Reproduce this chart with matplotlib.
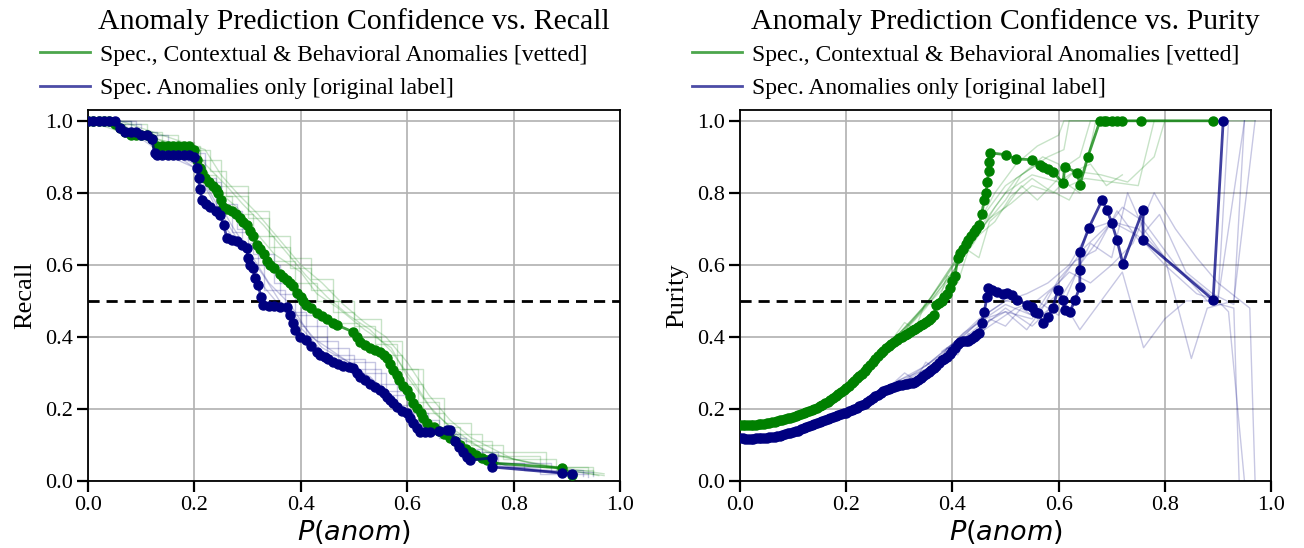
import matplotlib
matplotlib.use("Agg")
import matplotlib.pyplot as plt
from matplotlib.lines import Line2D

plt.rcParams['font.family'] = ['Liberation Serif', 'DejaVu Serif']
plt.rcParams['mathtext.fontset'] = 'dejavusans'

GREEN = '#008000'
NAVY = '#000080'

titles = ["Anomaly Prediction Confidence vs. Recall",
          "Anomaly Prediction Confidence vs. Purity"]
ylabels = ["Recall", "Purity"]
legend_labels = ["Spec., Contextual & Behavioral Anomalies [vetted]",
                 "Spec. Anomalies only [original label]"]
xticks = [0.0, 0.2, 0.4, 0.6, 0.8, 1.0]
yticks = [0.0, 0.2, 0.4, 0.6, 0.8, 1.0]

# ---------------- Recall: main curves ----------------
recall_green_x = [0.0, 0.01, 0.02, 0.03, 0.04, 0.05, 0.06, 0.07, 0.08, 0.09, 0.10, 0.11, 0.12, 0.13,
                  0.14, 0.15, 0.16, 0.17, 0.18, 0.19, 0.20, 0.205, 0.21, 0.215, 0.22, 0.228, 0.235,
                  0.24, 0.245, 0.25, 0.254, 0.262, 0.27, 0.278, 0.285, 0.292, 0.299, 0.305, 0.31,
                  0.318, 0.324, 0.33, 0.336, 0.343, 0.35, 0.36, 0.367, 0.374, 0.38, 0.385, 0.393,
                  0.40, 0.405, 0.41, 0.42, 0.43, 0.44, 0.45, 0.46, 0.468, 0.498, 0.505, 0.511,
                  0.52, 0.53, 0.54, 0.549, 0.556, 0.562, 0.567, 0.573, 0.58, 0.585, 0.593, 0.60,
                  0.606, 0.611, 0.618, 0.625, 0.63, 0.637, 0.65, 0.66, 0.67, 0.68, 0.69, 0.70,
                  0.71, 0.72, 0.73, 0.74, 0.75, 0.76, 0.891, 0.91]
recall_green_y = [1.0, 1.0, 1.0, 1.0, 1.0, 0.99, 0.98, 0.97, 0.96, 0.96, 0.96, 0.96, 0.95, 0.93,
                  0.93, 0.93, 0.93, 0.93, 0.93, 0.93, 0.92, 0.89, 0.87, 0.855, 0.84, 0.83, 0.82,
                  0.81, 0.80, 0.78, 0.76, 0.755, 0.75, 0.74, 0.73, 0.72, 0.71, 0.695, 0.68,
                  0.656, 0.643, 0.63, 0.61, 0.60, 0.59, 0.575, 0.566, 0.558, 0.55, 0.54, 0.522,
                  0.51, 0.50, 0.489, 0.48, 0.467, 0.458, 0.45, 0.44, 0.433, 0.414, 0.40, 0.386,
                  0.378, 0.37, 0.364, 0.358, 0.35, 0.342, 0.325, 0.308, 0.295, 0.28, 0.265, 0.253,
                  0.235, 0.217, 0.203, 0.19, 0.175, 0.161, 0.15, 0.14, 0.13, 0.12, 0.11, 0.10,
                  0.09, 0.08, 0.072, 0.065, 0.057, 0.05, 0.036, 0.017]

recall_blue_x = [0.0, 0.01, 0.02, 0.03, 0.04, 0.05, 0.06, 0.07, 0.08, 0.09, 0.10, 0.11, 0.12, 0.125,
                 0.13, 0.14, 0.15, 0.16, 0.17, 0.18, 0.19, 0.20, 0.205, 0.208, 0.21, 0.215, 0.222,
                 0.23, 0.24, 0.248, 0.255, 0.261, 0.27, 0.28, 0.29, 0.299, 0.30, 0.305, 0.31,
                 0.314, 0.32, 0.325, 0.329, 0.34, 0.35, 0.36, 0.374, 0.38, 0.385, 0.39, 0.398,
                 0.41, 0.42, 0.43, 0.437, 0.445, 0.452, 0.46, 0.47, 0.48, 0.49, 0.498, 0.505,
                 0.511, 0.52, 0.53, 0.54, 0.549, 0.556, 0.562, 0.567, 0.573, 0.58, 0.59, 0.60,
                 0.606, 0.611, 0.618, 0.624, 0.633, 0.643, 0.66, 0.675, 0.68, 0.69, 0.698, 0.705,
                 0.712, 0.718, 0.759, 0.759, 0.891, 0.91]
recall_blue_y = [1.0, 1.0, 1.0, 1.0, 1.0, 1.0, 0.98, 0.97, 0.97, 0.97, 0.96, 0.96, 0.95, 0.91,
                 0.905, 0.905, 0.905, 0.905, 0.905, 0.905, 0.905, 0.90, 0.87, 0.84, 0.81, 0.78, 0.77,
                 0.76, 0.75, 0.739, 0.71, 0.675, 0.67, 0.665, 0.655, 0.647, 0.619, 0.60, 0.59,
                 0.564, 0.544, 0.51, 0.489, 0.487, 0.485, 0.484, 0.483, 0.46, 0.439, 0.42, 0.40,
                 0.392, 0.375, 0.358, 0.35, 0.345, 0.338, 0.331, 0.325, 0.32, 0.317, 0.314, 0.30,
                 0.289, 0.28, 0.27, 0.26, 0.253, 0.243, 0.233, 0.225, 0.217, 0.205, 0.195, 0.189,
                 0.175, 0.161, 0.148, 0.136, 0.136, 0.136, 0.14, 0.142, 0.142, 0.11, 0.095, 0.08,
                 0.068, 0.058, 0.064, 0.039, 0.022, 0.019]

# ---------------- Recall: faint resampled curves ----------------
recall_green_boot_1_x = [0, 0.05, 0.08, 0.14, 0.2, 0.23, 0.26, 0.3, 0.34, 0.38, 0.42, 0.46, 0.5, 0.54, 0.58, 0.62, 0.66, 0.7, 0.76, 0.85, 0.95]
recall_green_boot_1_y = [1, 1, 0.97, 0.94, 0.92, 0.86, 0.79, 0.73, 0.65, 0.59, 0.53, 0.47, 0.43, 0.38, 0.31, 0.22, 0.15, 0.11, 0.07, 0.04, 0.02]
recall_green_boot_2_x = [0, 0.06, 0.1, 0.16, 0.22, 0.25, 0.28, 0.32, 0.36, 0.4, 0.44, 0.48, 0.52, 0.56, 0.6, 0.64, 0.68, 0.72, 0.8, 0.9, 0.97]
recall_green_boot_2_y = [1, 1, 0.98, 0.95, 0.92, 0.85, 0.80, 0.74, 0.67, 0.60, 0.55, 0.49, 0.44, 0.40, 0.33, 0.24, 0.17, 0.12, 0.06, 0.035, 0.02]
recall_green_boot_3_x = [0, 0.04, 0.07, 0.12, 0.18, 0.21, 0.24, 0.27, 0.31, 0.35, 0.39, 0.43, 0.47, 0.51, 0.55, 0.59, 0.63, 0.67, 0.74, 0.86, 0.94]
recall_green_boot_3_y = [1, 0.99, 0.97, 0.94, 0.92, 0.85, 0.79, 0.74, 0.68, 0.61, 0.55, 0.50, 0.44, 0.40, 0.35, 0.27, 0.19, 0.13, 0.08, 0.04, 0.02]
recall_green_boot_4_x = [0, 0.07, 0.12, 0.2, 0.22, 0.26, 0.29, 0.33, 0.37, 0.41, 0.45, 0.49, 0.53, 0.57, 0.61, 0.65, 0.69, 0.75, 0.83, 0.96]
recall_green_boot_4_y = [1, 0.98, 0.95, 0.93, 0.88, 0.82, 0.77, 0.71, 0.64, 0.57, 0.51, 0.46, 0.42, 0.36, 0.28, 0.19, 0.14, 0.08, 0.05, 0.015]
recall_green_boot_5_x = [0, 0.05, 0.11, 0.17, 0.21, 0.25, 0.3, 0.34, 0.38, 0.42, 0.46, 0.5, 0.55, 0.59, 0.63, 0.67, 0.72, 0.78, 0.88, 0.95]
recall_green_boot_5_y = [1, 0.99, 0.96, 0.93, 0.89, 0.82, 0.75, 0.68, 0.62, 0.56, 0.50, 0.45, 0.39, 0.31, 0.23, 0.16, 0.10, 0.06, 0.03, 0.02]
recall_green_boot_6_x = [0, 0.06, 0.13, 0.19, 0.22, 0.24, 0.28, 0.31, 0.35, 0.4, 0.43, 0.47, 0.52, 0.57, 0.6, 0.64, 0.7, 0.77, 0.9, 0.97]
recall_green_boot_6_y = [1, 0.97, 0.95, 0.92, 0.87, 0.81, 0.76, 0.70, 0.63, 0.58, 0.52, 0.48, 0.42, 0.37, 0.29, 0.21, 0.12, 0.07, 0.03, 0.015]

recall_blue_boot_1_x = [0, 0.05, 0.09, 0.13, 0.19, 0.21, 0.24, 0.27, 0.3, 0.33, 0.37, 0.41, 0.45, 0.5, 0.55, 0.6, 0.64, 0.69, 0.74, 0.82, 0.93]
recall_blue_boot_1_y = [1, 1, 0.97, 0.93, 0.9, 0.84, 0.76, 0.69, 0.62, 0.53, 0.47, 0.40, 0.35, 0.31, 0.25, 0.19, 0.13, 0.09, 0.05, 0.03, 0.015]
recall_blue_boot_2_x = [0, 0.06, 0.11, 0.16, 0.2, 0.23, 0.26, 0.29, 0.33, 0.36, 0.4, 0.44, 0.49, 0.53, 0.58, 0.62, 0.67, 0.72, 0.78, 0.9]
recall_blue_boot_2_y = [1, 0.99, 0.96, 0.91, 0.88, 0.80, 0.72, 0.65, 0.57, 0.50, 0.44, 0.37, 0.33, 0.28, 0.22, 0.16, 0.12, 0.07, 0.04, 0.02]
recall_blue_boot_3_x = [0, 0.04, 0.08, 0.12, 0.18, 0.22, 0.25, 0.28, 0.31, 0.35, 0.39, 0.43, 0.47, 0.52, 0.56, 0.61, 0.66, 0.71, 0.77, 0.87, 0.95]
recall_blue_boot_3_y = [1, 1, 0.97, 0.93, 0.91, 0.83, 0.77, 0.70, 0.63, 0.55, 0.46, 0.39, 0.34, 0.30, 0.24, 0.17, 0.12, 0.08, 0.05, 0.025, 0.015]
recall_blue_boot_4_x = [0, 0.07, 0.12, 0.17, 0.21, 0.24, 0.27, 0.31, 0.34, 0.38, 0.42, 0.46, 0.51, 0.55, 0.59, 0.63, 0.68, 0.73, 0.8, 0.92]
recall_blue_boot_4_y = [1, 0.98, 0.94, 0.90, 0.86, 0.79, 0.71, 0.62, 0.55, 0.49, 0.40, 0.36, 0.31, 0.26, 0.20, 0.15, 0.11, 0.06, 0.04, 0.02]
recall_blue_boot_5_x = [0, 0.05, 0.1, 0.15, 0.2, 0.22, 0.25, 0.29, 0.32, 0.36, 0.4, 0.45, 0.49, 0.54, 0.58, 0.62, 0.66, 0.7, 0.76, 0.85, 0.94]
recall_blue_boot_5_y = [1, 0.99, 0.96, 0.92, 0.89, 0.82, 0.75, 0.66, 0.60, 0.52, 0.43, 0.37, 0.33, 0.27, 0.21, 0.15, 0.13, 0.07, 0.04, 0.02, 0.01]
recall_blue_boot_6_x = [0, 0.06, 0.1, 0.14, 0.2, 0.23, 0.26, 0.3, 0.33, 0.37, 0.41, 0.44, 0.48, 0.53, 0.57, 0.6, 0.65, 0.71, 0.79, 0.9]
recall_blue_boot_6_y = [1, 0.98, 0.95, 0.91, 0.87, 0.79, 0.70, 0.63, 0.54, 0.47, 0.41, 0.36, 0.32, 0.29, 0.23, 0.18, 0.14, 0.08, 0.04, 0.02]

# ---------------- Purity: main curves ----------------
purity_green_x = [0.000, 0.005, 0.010, 0.015, 0.020, 0.025, 0.030, 0.035, 0.040, 0.045, 0.050, 0.055,
                  0.060, 0.065, 0.070, 0.075, 0.080, 0.085, 0.090, 0.095, 0.100, 0.105, 0.110, 0.115,
                  0.120, 0.125, 0.130, 0.135, 0.140, 0.145, 0.150, 0.155, 0.160, 0.165, 0.170, 0.175,
                  0.180, 0.185, 0.190, 0.195, 0.200, 0.205, 0.210, 0.215, 0.220, 0.225, 0.230, 0.235,
                  0.240, 0.245, 0.250, 0.255, 0.260, 0.265, 0.270, 0.275, 0.280, 0.285, 0.290, 0.295,
                  0.300, 0.305, 0.310, 0.315, 0.320, 0.325, 0.330, 0.335, 0.340, 0.345, 0.350, 0.355,
                  0.360, 0.365, 0.370, 0.375, 0.380, 0.385, 0.390, 0.395, 0.400, 0.405, 0.410, 0.415,
                  0.420, 0.425, 0.430, 0.435, 0.440, 0.445, 0.450, 0.455, 0.460, 0.463, 0.466, 0.468,
                  0.469, 0.471, 0.50, 0.52, 0.55, 0.565, 0.571, 0.58, 0.589, 0.608, 0.612, 0.635,
                  0.64, 0.655, 0.678, 0.685, 0.69, 0.70, 0.71, 0.72, 0.756, 0.89]
purity_green_y = [0.156, 0.156, 0.155, 0.155, 0.155, 0.155, 0.156, 0.157, 0.158, 0.159, 0.160, 0.162,
                  0.163, 0.165, 0.166, 0.168, 0.170, 0.172, 0.174, 0.176, 0.178, 0.180, 0.183, 0.185,
                  0.188, 0.191, 0.194, 0.197, 0.201, 0.204, 0.208, 0.212, 0.216, 0.220, 0.225, 0.230,
                  0.236, 0.241, 0.247, 0.253, 0.259, 0.265, 0.272, 0.278, 0.285, 0.291, 0.298, 0.305,
                  0.313, 0.321, 0.330, 0.338, 0.347, 0.355, 0.362, 0.369, 0.375, 0.381, 0.386, 0.391,
                  0.396, 0.400, 0.405, 0.409, 0.413, 0.418, 0.422, 0.427, 0.432, 0.437, 0.442, 0.447,
                  0.452, 0.460, 0.490, 0.495, 0.500, 0.510, 0.520, 0.537, 0.555, 0.570, 0.620, 0.632,
                  0.645, 0.657, 0.670, 0.680, 0.690, 0.700, 0.710, 0.740, 0.780, 0.800, 0.830, 0.860,
                  0.885, 0.911, 0.906, 0.894, 0.892, 0.878, 0.872, 0.865, 0.858, 0.828, 0.872, 0.856,
                  0.822, 0.90, 1.0, 1.0, 1.0, 1.0, 1.0, 1.0, 1.0, 1.0]

purity_blue_x = [0.000, 0.005, 0.010, 0.015, 0.020, 0.025, 0.030, 0.035, 0.040, 0.045, 0.050, 0.055,
                 0.060, 0.065, 0.070, 0.075, 0.080, 0.085, 0.090, 0.095, 0.100, 0.105, 0.110, 0.115,
                 0.120, 0.125, 0.130, 0.135, 0.140, 0.145, 0.150, 0.155, 0.160, 0.165, 0.170, 0.175,
                 0.180, 0.185, 0.190, 0.195, 0.200, 0.205, 0.210, 0.215, 0.220, 0.225, 0.230, 0.235,
                 0.240, 0.245, 0.250, 0.255, 0.260, 0.265, 0.270, 0.275, 0.280, 0.285, 0.290, 0.295,
                 0.300, 0.305, 0.310, 0.315, 0.320, 0.325, 0.330, 0.335, 0.340, 0.345, 0.350, 0.355,
                 0.360, 0.365, 0.370, 0.375, 0.380, 0.385, 0.390, 0.395, 0.400, 0.405, 0.410, 0.415,
                 0.420, 0.425, 0.430, 0.435, 0.440, 0.445, 0.450, 0.455, 0.460, 0.465, 0.467, 0.475,
                 0.484, 0.495, 0.503, 0.512, 0.522, 0.54, 0.55, 0.556, 0.561, 0.571, 0.58, 0.589,
                 0.599, 0.608, 0.612, 0.621, 0.631, 0.64, 0.64, 0.64, 0.657, 0.682, 0.691, 0.70,
                 0.71, 0.721, 0.759, 0.759, 0.891, 0.91]
purity_blue_y = [0.118, 0.118, 0.117, 0.117, 0.117, 0.117, 0.118, 0.118, 0.119, 0.119, 0.120, 0.121,
                 0.122, 0.123, 0.125, 0.126, 0.128, 0.130, 0.132, 0.134, 0.136, 0.138, 0.140, 0.143,
                 0.146, 0.149, 0.152, 0.155, 0.158, 0.161, 0.164, 0.167, 0.170, 0.172, 0.175, 0.178,
                 0.181, 0.183, 0.186, 0.188, 0.190, 0.193, 0.196, 0.199, 0.203, 0.207, 0.211, 0.215,
                 0.220, 0.225, 0.230, 0.235, 0.240, 0.245, 0.249, 0.253, 0.256, 0.259, 0.262, 0.264,
                 0.266, 0.267, 0.268, 0.270, 0.271, 0.273, 0.275, 0.280, 0.285, 0.291, 0.297, 0.302,
                 0.308, 0.314, 0.320, 0.327, 0.335, 0.340, 0.345, 0.352, 0.360, 0.370, 0.380, 0.385,
                 0.390, 0.390, 0.390, 0.395, 0.400, 0.405, 0.410, 0.440, 0.470, 0.510, 0.536, 0.530,
                 0.525, 0.520, 0.522, 0.517, 0.503, 0.490, 0.483, 0.470, 0.467, 0.439, 0.456, 0.481,
                 0.531, 0.503, 0.475, 0.469, 0.503, 0.539, 0.586, 0.636, 0.703, 0.780, 0.753, 0.717,
                 0.669, 0.603, 0.753, 0.669, 0.503, 1.0]

# ---------------- Purity: faint resampled curves ----------------
purity_green_boot_1_x = [0.2, 0.26, 0.3, 0.34, 0.38, 0.42, 0.46, 0.5, 0.54, 0.58, 0.61, 0.62, 0.7]
purity_green_boot_1_y = [0.27, 0.35, 0.41, 0.47, 0.55, 0.64, 0.74, 0.82, 0.86, 0.9, 0.92, 1.0, 1.0]
purity_green_boot_2_x = [0.2, 0.25, 0.3, 0.35, 0.4, 0.44, 0.48, 0.52, 0.56, 0.6, 0.64, 0.66, 0.75]
purity_green_boot_2_y = [0.26, 0.33, 0.40, 0.48, 0.58, 0.66, 0.76, 0.84, 0.88, 0.86, 0.9, 1.0, 1.0]
purity_green_boot_3_x = [0.2, 0.26, 0.31, 0.36, 0.4, 0.45, 0.5, 0.55, 0.6, 0.63, 0.68, 0.73, 0.78, 0.8]
purity_green_boot_3_y = [0.27, 0.35, 0.42, 0.51, 0.6, 0.7, 0.8, 0.85, 0.83, 0.86, 0.85, 0.83, 0.9, 1.0]
purity_green_boot_4_x = [0.2, 0.27, 0.33, 0.38, 0.42, 0.46, 0.5, 0.53, 0.57, 0.6, 0.62, 0.65, 0.7, 0.75, 0.78]
purity_green_boot_4_y = [0.27, 0.37, 0.45, 0.54, 0.62, 0.71, 0.78, 0.85, 0.9, 0.88, 0.82, 0.84, 0.83, 0.82, 1.0]
purity_green_boot_5_x = [0.25, 0.3, 0.35, 0.4, 0.45, 0.48, 0.52, 0.56, 0.6, 0.61, 0.7, 0.8, 0.9, 0.97]
purity_green_boot_5_y = [0.34, 0.41, 0.49, 0.6, 0.72, 0.8, 0.88, 0.93, 0.96, 1.0, 1.0, 1.0, 1.0, 1.0]
purity_green_boot_6_x = [0.3, 0.35, 0.39, 0.43, 0.47, 0.51, 0.55, 0.59, 0.63, 0.66, 0.69, 0.72]
purity_green_boot_6_y = [0.41, 0.49, 0.57, 0.66, 0.73, 0.77, 0.82, 0.80, 0.86, 0.88, 0.82, 0.85]
purity_green_boot_7_x = [0.3, 0.34, 0.38, 0.41, 0.44, 0.48, 0.51, 0.55, 0.58, 0.62, 0.65, 0.67, 0.72]
purity_green_boot_7_y = [0.40, 0.47, 0.53, 0.60, 0.67, 0.72, 0.79, 0.84, 0.81, 0.78, 0.86, 1.0, 1.0]
purity_green_boot_8_x = [0.28, 0.31, 0.33, 0.35, 0.37, 0.39, 0.41, 0.43, 0.45, 0.47, 0.5, 0.53, 0.56, 0.6, 0.64]
purity_green_boot_8_y = [0.38, 0.44, 0.42, 0.50, 0.48, 0.57, 0.55, 0.64, 0.62, 0.72, 0.76, 0.82, 0.78, 0.84, 0.80]

purity_blue_boot_1_x = [0.2, 0.25, 0.3, 0.35, 0.4, 0.45, 0.5, 0.55, 0.6, 0.65, 0.7, 0.75, 0.8, 0.85, 0.9, 0.95]
purity_blue_boot_1_y = [0.19, 0.24, 0.28, 0.32, 0.38, 0.45, 0.50, 0.49, 0.55, 0.65, 0.72, 0.70, 0.62, 0.56, 0.50, 1.0]
purity_blue_boot_2_x = [0.2, 0.25, 0.3, 0.35, 0.4, 0.44, 0.48, 0.52, 0.56, 0.6, 0.64, 0.68, 0.72, 0.76, 0.82, 0.88, 0.93, 0.94]
purity_blue_boot_2_y = [0.19, 0.23, 0.27, 0.30, 0.35, 0.40, 0.44, 0.48, 0.50, 0.46, 0.60, 0.68, 0.76, 0.72, 0.60, 0.50, 0.48, 0.0]
purity_blue_boot_3_x = [0.25, 0.3, 0.35, 0.4, 0.45, 0.5, 0.55, 0.58, 0.62, 0.66, 0.7, 0.74, 0.78, 0.82, 0.86, 0.9, 0.96, 0.97]
purity_blue_boot_3_y = [0.24, 0.27, 0.31, 0.37, 0.43, 0.47, 0.45, 0.52, 0.58, 0.55, 0.60, 0.66, 0.80, 0.70, 0.62, 0.55, 0.48, 0.0]
purity_blue_boot_4_x = [0.3, 0.35, 0.4, 0.45, 0.5, 0.55, 0.6, 0.63, 0.66, 0.7, 0.73, 0.76, 0.8, 0.85, 0.88, 0.93, 0.97]
purity_blue_boot_4_y = [0.28, 0.31, 0.36, 0.42, 0.48, 0.43, 0.50, 0.57, 0.66, 0.62, 0.80, 0.70, 0.62, 0.34, 0.48, 0.50, 1.0]
purity_blue_boot_5_x = [0.35, 0.4, 0.45, 0.5, 0.55, 0.6, 0.64, 0.68, 0.72, 0.76, 0.8, 0.84, 0.9, 0.92, 0.95]
purity_blue_boot_5_y = [0.32, 0.38, 0.44, 0.49, 0.46, 0.52, 0.42, 0.50, 0.58, 0.37, 0.45, 0.50, 0.50, 0.47, 0.0]
purity_blue_boot_6_x = [0.38, 0.42, 0.46, 0.5, 0.54, 0.58, 0.62, 0.66, 0.7, 0.75, 0.8, 0.86, 0.9, 0.92]
purity_blue_boot_6_y = [0.36, 0.40, 0.46, 0.50, 0.52, 0.55, 0.60, 0.70, 0.72, 0.68, 0.60, 0.52, 0.50, 1.0]
purity_blue_boot_7_x = [0.3, 0.34, 0.38, 0.42, 0.46, 0.5, 0.54, 0.57, 0.6, 0.63, 0.67, 0.71, 0.75, 0.79, 0.84, 0.89, 0.93, 0.95]
purity_blue_boot_7_y = [0.27, 0.31, 0.35, 0.41, 0.45, 0.47, 0.42, 0.48, 0.56, 0.61, 0.64, 0.75, 0.67, 0.74, 0.58, 0.52, 0.49, 1.0]
purity_blue_boot_8_x = [0.28, 0.31, 0.33, 0.35, 0.37, 0.39, 0.41, 0.43, 0.45, 0.47, 0.5, 0.53, 0.56, 0.6]
purity_blue_boot_8_y = [0.26, 0.30, 0.28, 0.33, 0.31, 0.37, 0.35, 0.41, 0.39, 0.45, 0.43, 0.48, 0.45, 0.50]

recall_green_boots = [(recall_green_boot_1_x, recall_green_boot_1_y), (recall_green_boot_2_x, recall_green_boot_2_y),
                      (recall_green_boot_3_x, recall_green_boot_3_y), (recall_green_boot_4_x, recall_green_boot_4_y),
                      (recall_green_boot_5_x, recall_green_boot_5_y), (recall_green_boot_6_x, recall_green_boot_6_y)]
recall_blue_boots = [(recall_blue_boot_1_x, recall_blue_boot_1_y), (recall_blue_boot_2_x, recall_blue_boot_2_y),
                     (recall_blue_boot_3_x, recall_blue_boot_3_y), (recall_blue_boot_4_x, recall_blue_boot_4_y),
                     (recall_blue_boot_5_x, recall_blue_boot_5_y), (recall_blue_boot_6_x, recall_blue_boot_6_y)]
purity_green_boots = [(purity_green_boot_1_x, purity_green_boot_1_y), (purity_green_boot_2_x, purity_green_boot_2_y),
                      (purity_green_boot_3_x, purity_green_boot_3_y), (purity_green_boot_4_x, purity_green_boot_4_y),
                      (purity_green_boot_5_x, purity_green_boot_5_y), (purity_green_boot_6_x, purity_green_boot_6_y),
                      (purity_green_boot_7_x, purity_green_boot_7_y), (purity_green_boot_8_x, purity_green_boot_8_y)]
purity_blue_boots = [(purity_blue_boot_1_x, purity_blue_boot_1_y), (purity_blue_boot_2_x, purity_blue_boot_2_y),
                     (purity_blue_boot_3_x, purity_blue_boot_3_y), (purity_blue_boot_4_x, purity_blue_boot_4_y),
                     (purity_blue_boot_5_x, purity_blue_boot_5_y), (purity_blue_boot_6_x, purity_blue_boot_6_y),
                     (purity_blue_boot_7_x, purity_blue_boot_7_y), (purity_blue_boot_8_x, purity_blue_boot_8_y)]

fig = plt.figure(figsize=(13.04, 5.48), dpi=100)
ax1 = fig.add_axes([88 / 1304, 67 / 548, 532 / 1304, 371 / 548])
ax2 = fig.add_axes([740 / 1304, 67 / 548, 531 / 1304, 371 / 548])

panels = [
    (ax1, recall_green_boots, recall_blue_boots, (recall_green_x, recall_green_y), (recall_blue_x, recall_blue_y), 'steps-post'),
    (ax2, purity_green_boots, purity_blue_boots, (purity_green_x, purity_green_y), (purity_blue_x, purity_blue_y), 'default'),
]

for i, (ax, gboots, bboots, gmain, bmain, ds) in enumerate(panels):
    for j, (bx, by) in enumerate(gboots):
        ax.plot(bx, by, color=GREEN, alpha=0.22, lw=1.0, zorder=2,
                drawstyle=(ds if j % 2 == 0 else 'default'))
    for j, (bx, by) in enumerate(bboots):
        ax.plot(bx, by, color=NAVY, alpha=0.22, lw=1.0, zorder=2,
                drawstyle=(ds if j % 2 == 0 else 'default'))
    ax.axhline(0.5, color='black', ls='--', lw=2, dashes=(4, 2.5), zorder=3)
    ax.plot(gmain[0], gmain[1], color=GREEN, alpha=0.75, lw=2, zorder=4)
    ax.plot(gmain[0], gmain[1], ls='none', marker='o', ms=6.5, color=GREEN, zorder=5)
    ax.plot(bmain[0], bmain[1], color=NAVY, alpha=0.75, lw=2, zorder=6)
    ax.plot(bmain[0], bmain[1], ls='none', marker='o', ms=6.5, color=NAVY, zorder=7)

    ax.set_xlim(0, 1)
    ax.set_ylim(0, 1.03)
    ax.set_xticks(xticks)
    ax.set_yticks(yticks)
    ax.set_xticklabels([f"{t:.1f}" for t in xticks])
    ax.set_yticklabels([f"{t:.1f}" for t in yticks])
    ax.grid(True, color='#b0b0b0', lw=1.2)
    ax.set_axisbelow(True)
    ax.tick_params(direction='out', length=8, width=1.6, labelsize=16, pad=3)
    for sp in ax.spines.values():
        sp.set_linewidth(1.3)
    ax.set_xlabel(r"$P(anom)$", fontsize=19.5, labelpad=2)
    ax.set_ylabel(ylabels[i], fontsize=19, labelpad=6)
    ax.text(0.5, 1.238, titles[i], transform=ax.transAxes, ha='center', va='center', fontsize=21.5)
    handles = [Line2D([], [], color=GREEN, alpha=0.7, lw=2),
               Line2D([], [], color=NAVY, alpha=0.7, lw=2)]
    ax.legend(handles, legend_labels, loc='center left', bbox_to_anchor=(-0.09, 1.104),
              frameon=False, fontsize=17, handlelength=2.1, labelspacing=0.5,
              handletextpad=0.45, borderaxespad=0, borderpad=0)

fig.savefig("out.png", dpi=100)
